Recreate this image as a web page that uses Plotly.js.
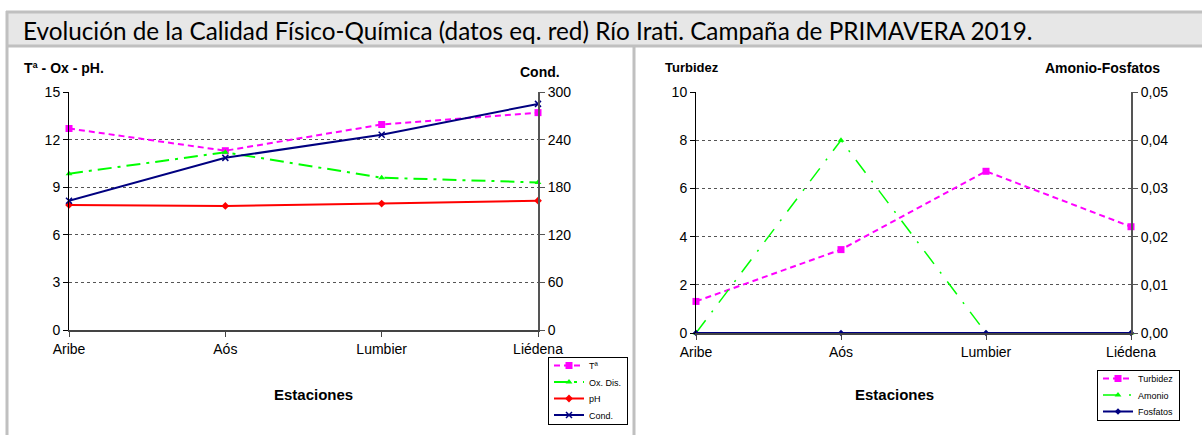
<!DOCTYPE html>
<html><head><meta charset="utf-8">
<script src="https://cdn.plot.ly/plotly-3.0.1.min.js"></script>
<style>html,body{margin:0;padding:0;background:#fff;}#chart{width:1202px;height:435px;}</style>
</head><body><div id="chart"></div>
<script>
// ---- data ----
const estaciones = ["Aribe", "Aós", "Lumbier", "Liédena"];
const temperatura = [12.7, 11.3, 12.95, 13.7];
const oxDis = [9.85, 11.2, 9.6, 9.3];
const ph = [7.88, 7.82, 7.97, 8.15];
const conductividad = [163, 217, 246, 285];
const turbidez = [1.31, 3.46, 6.71, 4.41];
const amonio = [0, 0.04, 0, 0];
const fosfatos = [0, 0, 0, 0];

const W = 1202, H = 435;
const px = x => x / W;
const py = y => 1 - y / H;

const FONT = "Liberation Sans, Arial, sans-serif";
const MAG = "#ff00ff", GRN = "#00ff00", RED = "#ff0000", NAVY = "#000080";

const traces = [
  {x: estaciones, y: temperatura, name: "Tª", xaxis: "x", yaxis: "y", mode: "lines+markers",
   line: {color: MAG, width: 2, dash: "6px,4px"}, marker: {symbol: "square", size: 7, color: MAG}, cliponaxis: false, legend: "legend"},
  {x: estaciones, y: oxDis, name: "Ox. Dis.", xaxis: "x", yaxis: "y", mode: "lines+markers",
   line: {color: GRN, width: 2, dash: "14px,6px,3px,6px"}, marker: {symbol: "triangle-up", size: 6, color: GRN}, cliponaxis: false, legend: "legend"},
  {x: estaciones, y: ph, name: "pH", xaxis: "x", yaxis: "y", mode: "lines+markers",
   line: {color: RED, width: 2}, marker: {symbol: "diamond", size: 6, color: RED}, cliponaxis: false, legend: "legend"},
  {x: estaciones, y: conductividad, name: "Cond.", xaxis: "x", yaxis: "y2", mode: "lines+markers",
   line: {color: NAVY, width: 2}, marker: {symbol: "x-thin-open", size: 6, color: NAVY, line: {color: NAVY, width: 1.5}}, cliponaxis: false, legend: "legend"},
  {x: estaciones, y: turbidez, name: "Turbidez", xaxis: "x2", yaxis: "y3", mode: "lines+markers",
   line: {color: MAG, width: 2, dash: "6px,4px"}, marker: {symbol: "square", size: 7, color: MAG}, cliponaxis: false, legend: "legend2"},
  {x: estaciones, y: amonio, name: "Amonio", xaxis: "x2", yaxis: "y4", mode: "lines+markers",
   line: {color: GRN, width: 1.5, dash: "16px,10px,2px,10px"}, marker: {symbol: "triangle-up", size: 6, color: GRN}, cliponaxis: false, legend: "legend2"},
  {x: estaciones, y: fosfatos, name: "Fosfatos", xaxis: "x2", yaxis: "y4", mode: "lines+markers",
   line: {color: NAVY, width: 2}, marker: {symbol: "diamond", size: 5, color: NAVY}, cliponaxis: false, legend: "legend2"}
];

const tickFont = {family: FONT, size: 14, color: "#000"};
const xCommon = {type: "category", range: [0, 3], showline: true, linecolor: "#444", linewidth: 2,
  ticks: "outside", ticklen: 5, tickcolor: "#444", tickfont: tickFont, showgrid: false, zeroline: false, fixedrange: true};
const yLeft = {side: "left", showline: true, linecolor: "#000", linewidth: 1, ticks: "outside", ticklen: 5, tickcolor: "#000",
  tickfont: tickFont, showgrid: true, gridcolor: "#555", griddash: "dot", gridwidth: 1, zeroline: false, fixedrange: true};
const yRight = {side: "right", showline: true, linecolor: "#555", linewidth: 2, ticks: "outside", ticklen: 5, tickcolor: "#555",
  tickfont: tickFont, showgrid: false, zeroline: false, fixedrange: true};

const bold = (t, x, y, size, xanchor) => ({text: "<b>" + t + "</b>", x: px(x), y: py(y), xref: "paper", yref: "paper",
  xanchor: xanchor || "left", yanchor: "middle", showarrow: false, font: {family: FONT, size: size, color: "#000"}});

const layout = {
  width: W, height: H, margin: {l: 0, r: 0, t: 0, b: 0, autoexpand: false},
  paper_bgcolor: "#fff", plot_bgcolor: "rgba(0,0,0,0)",
  separators: ",.",
  showlegend: true,
  xaxis: Object.assign({}, xCommon, {domain: [px(69), px(538)], anchor: "y"}),
  yaxis: Object.assign({}, yLeft, {domain: [py(330), py(92)], range: [0, 15], dtick: 3, anchor: "x"}),
  yaxis2: Object.assign({}, yRight, {overlaying: "y", range: [0, 300], dtick: 60, anchor: "x"}),
  xaxis2: Object.assign({}, xCommon, {domain: [px(696), px(1131)], anchor: "y3"}),
  yaxis3: Object.assign({}, yLeft, {domain: [py(333), py(92)], range: [0, 10], dtick: 2, anchor: "x2"}),
  yaxis4: Object.assign({}, yRight, {overlaying: "y3", range: [0, 0.05], dtick: 0.01, tickformat: ".2f", anchor: "x2"}),
  legend: {x: px(548), y: py(357), xanchor: "left", yanchor: "top", bgcolor: "#fff", bordercolor: "#000", borderwidth: 1,
    font: {family: FONT, size: 9, color: "#000"}, itemwidth: 30, tracegroupgap: 0},
  legend2: {x: px(1097), y: py(370), xanchor: "left", yanchor: "top", bgcolor: "#fff", bordercolor: "#000", borderwidth: 1,
    font: {family: FONT, size: 9, color: "#000"}, itemwidth: 30, tracegroupgap: 0},
  shapes: [
    {type: "rect", xref: "paper", yref: "paper", x0: px(7), x1: px(1202), y0: py(46), y1: py(12), fillcolor: "#e7e7e7", line: {width: 0}, layer: "below"},
    {type: "line", xref: "paper", yref: "paper", x0: px(6), x1: px(1202), y0: py(12), y1: py(12), line: {color: "#c0c0c0", width: 3}},
    {type: "line", xref: "paper", yref: "paper", x0: px(6), x1: px(1202), y0: py(46), y1: py(46), line: {color: "#c0c0c0", width: 3}},
    {type: "line", xref: "paper", yref: "paper", x0: px(7), x1: px(7), y0: py(11), y1: py(435), line: {color: "#c0c0c0", width: 3}},
    {type: "line", xref: "paper", yref: "paper", x0: px(634), x1: px(634), y0: py(46), y1: py(435), line: {color: "#c0c0c0", width: 3}}
  ],
  annotations: [
    {text: "Evolución de la Calidad Físico-Química (datos eq. red) Río Irati. Campaña de PRIMAVERA 2019.",
     x: px(21), y: py(30), xref: "paper", yref: "paper", xanchor: "left", yanchor: "middle", showarrow: false,
     font: {family: "Lato, Carlito, Calibri, sans-serif", size: 24.3, color: "#000"}},
    bold("Tª - Ox - pH.", 22, 68, 14),
    bold("Cond.", 562, 72, 14, "right"),
    bold("Turbidez", 663, 68, 13),
    bold("Amonio-Fosfatos", 1162, 68, 14, "right"),
    bold("Estaciones", 313, 394, 15, "center"),
    bold("Estaciones", 894, 394, 15, "center")
  ]
};

// tighten legend rows (Plotly enforces a 19px minimum row height)
function compactLegends(gd) {
  const groups = gd.querySelectorAll(".infolayer > g");
  groups.forEach(g => {
    const bg = g.querySelector("rect.bg");
    const items = g.querySelectorAll("g.traces");
    if (!bg || !items.length) return;
    const STEP = 16.5, TOP_SHIFT = 7;
    let y0 = null;
    items.forEach((it, i) => {
      const m = /translate\(\s*([-\d.]+)[ ,]+([-\d.]+)\s*\)/.exec(it.getAttribute("transform") || "");
      if (!m) return;
      if (y0 === null) y0 = parseFloat(m[2]);
      it.setAttribute("transform", "translate(" + m[1] + "," + (y0 - TOP_SHIFT + i * STEP) + ")");
    });
    const h0 = parseFloat(bg.getAttribute("height"));
    if (!isNaN(h0)) {
      const h = h0 - (19 - STEP) * (items.length - 1) - 13;
      bg.setAttribute("height", h);
    }
  });
}

Plotly.newPlot("chart", traces, layout, {staticPlot: true, displayModeBar: false}).then(compactLegends);
</script>
</body></html>
